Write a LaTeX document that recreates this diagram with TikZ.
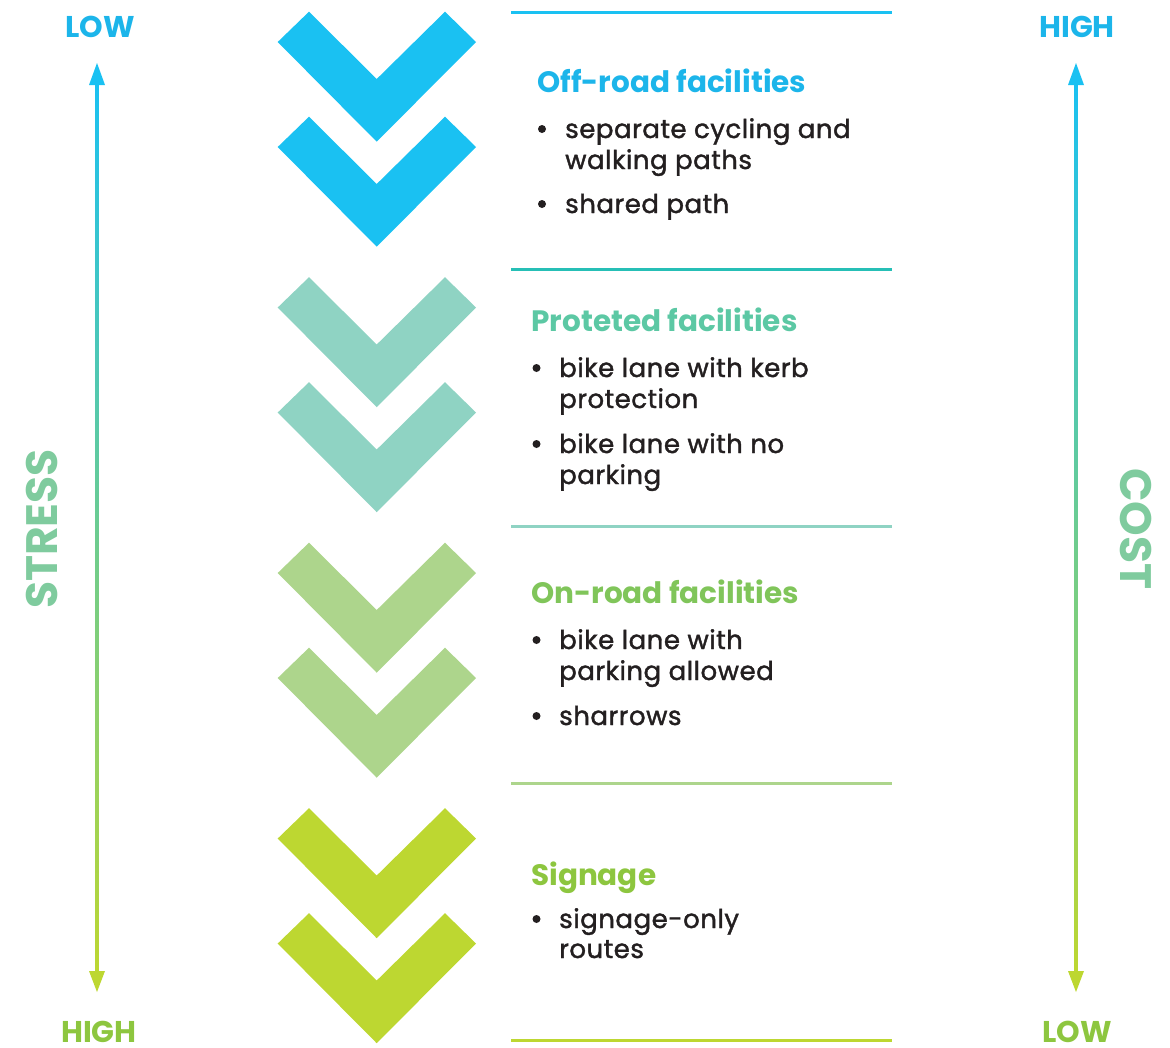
\documentclass[tikz,border=0pt]{standalone}
\usepackage{fontspec}
\setmainfont{Poppins}
\newfontfamily\bodyfont[FakeBold=1.5, LetterSpace=2]{Poppins}
\usetikzlibrary{arrows.meta}

\definecolor{offblue}{HTML}{1AC1F2}
\definecolor{protteal}{HTML}{8FD3C3}
\definecolor{ongreen}{HTML}{ADD58C}
\definecolor{signgreen}{HTML}{BDD731}
\definecolor{offhead}{HTML}{1CB5EA}
\definecolor{prothead}{HTML}{5CC8A4}
\definecolor{onhead}{HTML}{80C55A}
\definecolor{signhead}{HTML}{8DC63F}
\definecolor{lineteal}{HTML}{26BFB6}
\definecolor{midteal}{HTML}{7DCDAE}
\definecolor{axisgreen}{HTML}{7FCB9E}
\definecolor{bodytext}{HTML}{231F20}

\begin{document}
\begin{tikzpicture}[x=1pt,y=-1pt,
  headline/.style={anchor=base west, inner sep=0pt, font=\bfseries\fontsize{29.5}{35}\selectfont},
  itemline/.style={anchor=base west, inner sep=0pt, font=\bodyfont\fontsize{26}{31}\selectfont, text=bodytext},
  dotmark/.style={circle, fill=bodytext, inner sep=0pt, minimum size=8pt},
  ends/.style={anchor=base, inner sep=0pt, text depth=0pt, font=\bfseries\fontsize{30}{36}\selectfont},
  axisname/.style={inner sep=0pt, font=\bfseries\fontsize{44}{52}\selectfont, text=axisgreen},
  sepline/.style={line width=3pt}]
\useasboundingbox (0,0) rectangle (1170,1047);

% chevrons
\foreach \c/\t in {offblue/11.7, offblue/116.7, protteal/277.2, protteal/382.2,
                   ongreen/542.7, ongreen/647.7, signgreen/808.2, signgreen/913.2}
{
  \fill[\c] (277.7,\t+30.3) -- (309,\t) -- (376.7,\t+67.3) -- (445,\t)
    -- (476,\t+30.3) -- (376.7,\t+130) -- cycle;
}

% separators
\foreach \c/\y in {offblue/12, lineteal/269, protteal/526, ongreen/783, signgreen/1040}
  \draw[sepline,\c] (511,\y) -- (892,\y);

% axis ends
\node[ends, text=offhead] (stressLow) at (100,37) {LOW};
\node[ends, text=signhead] (stressHigh) at (99,1042) {HIGH};
\node[ends, text=offhead] (costHigh) at (1077,37) {HIGH};
\node[ends, text=signhead] (costLow) at (1077,1042) {LOW};
\node[axisname, rotate=90] (stress) at (42,529) {STRESS};
\node[axisname, rotate=-90] (cost) at (1136,529) {COST};

% gradient arrows
\foreach \x in {97,1076}
{
  \shade[top color=offblue, middle color=midteal, bottom color=signgreen]
    (\x-1.4,82) rectangle (\x+1.4,974);
  \fill[offblue] (\x,63) -- (\x-8,85) -- (\x+8,85) -- cycle;
  \fill[signgreen] (\x,992) -- (\x-8,971) -- (\x+8,971) -- cycle;
}

% off-road
\node[headline, text=offhead] (offTitle) at (537,92) {Off-road facilities};
\node[itemline] (offA) at (565,138) {separate cycling and};
\node[itemline] (offB) at (565,169) {walking paths};
\node[itemline] (offC) at (565,213) {shared path};
\node[dotmark] (offDotA) at (542,129) {};
\node[dotmark] (offDotC) at (542,204) {};

% protected
\node[headline, text=prothead] (protTitle) at (531,331) {Proteted facilities};
\node[itemline] (protA) at (559,377) {bike lane with kerb};
\node[itemline] (protB) at (559,408) {protection};
\node[itemline] (protC) at (559,453) {bike lane with no};
\node[itemline] (protD) at (559,484) {parking};
\node[dotmark] (protDotA) at (536.5,368) {};
\node[dotmark] (protDotC) at (536.5,444) {};

% on-road
\node[headline, text=onhead] (onTitle) at (531,603) {On-road facilities};
\node[itemline] (onA) at (559,649) {bike lane with};
\node[itemline] (onB) at (559,680) {parking allowed};
\node[itemline] (onC) at (559,725) {sharrows};
\node[dotmark] (onDotA) at (536.5,640) {};
\node[dotmark] (onDotC) at (536.5,716) {};

% signage
\node[headline, text=signhead] (signTitle) at (531,885) {Signage};
\node[itemline] (signA) at (559,928) {signage-only};
\node[itemline] (signB) at (559,958) {routes};
\node[dotmark] (signDotA) at (536.5,919) {};
\end{tikzpicture}
\end{document}
